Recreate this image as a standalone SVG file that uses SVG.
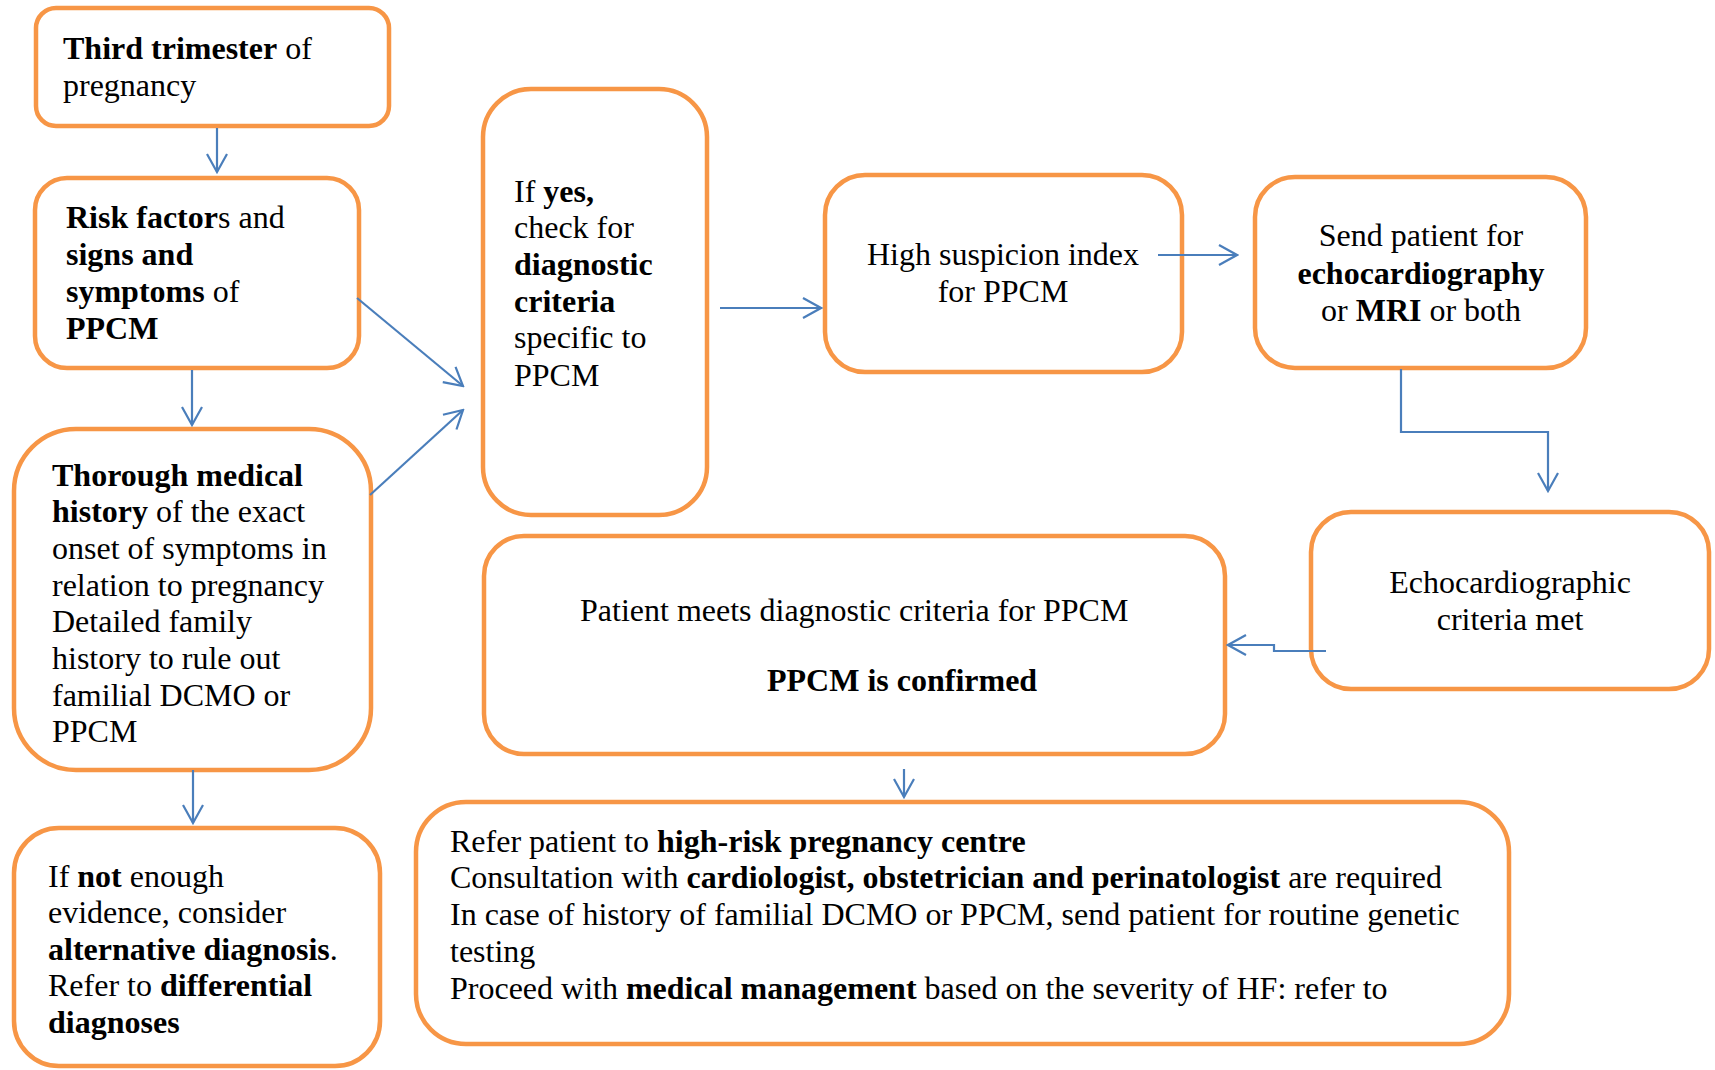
<svg xmlns="http://www.w3.org/2000/svg" width="1715" height="1070" viewBox="0 0 1715 1070">
<style>
.box{fill:#fff;stroke:#F79646;stroke-width:4.5}
.t{font-family:"Liberation Serif","Times New Roman",serif;font-size:32px;fill:#000}
.b{font-weight:bold}
.c{text-anchor:middle}
.con{fill:none;stroke:#4A7EBB;stroke-width:2.2;marker-end:url(#ah)}
</style>
<defs>
<marker id="ah" viewBox="0 0 22 24" refX="20" refY="12" markerWidth="22" markerHeight="24" markerUnits="userSpaceOnUse" orient="auto">
<path d="M2,2 L20,12 L2,22" fill="none" stroke="#4A7EBB" stroke-width="2.2"/>
</marker>
</defs>
<rect width="1715" height="1070" fill="#fff"/>
<g id="n1">
<rect class="box" x="36" y="8" width="353" height="118" rx="20"/>
<text class="t" x="63" y="59"><tspan class="b">Third trimester</tspan> of</text>
<text class="t" x="63" y="96">pregnancy</text>
</g>
<g id="n2">
<rect class="box" x="35" y="178" width="324" height="190" rx="32"/>
<text class="t" x="66" y="228"><tspan class="b">Risk factor</tspan>s and</text>
<text class="t b" x="66" y="265">signs and</text>
<text class="t" x="66" y="302"><tspan class="b">symptoms</tspan> of</text>
<text class="t b" x="66" y="339">PPCM</text>
</g>
<g id="n3">
<rect class="box" x="14" y="429" width="357" height="341" rx="62"/>
<text class="t b" x="52" y="486">Thorough medical</text>
<text class="t" x="52" y="522"><tspan class="b">history</tspan> of the exact</text>
<text class="t" x="52" y="559">onset of symptoms in</text>
<text class="t" x="52" y="596">relation to pregnancy</text>
<text class="t" x="52" y="632">Detailed family</text>
<text class="t" x="52" y="669">history to rule out</text>
<text class="t" x="52" y="706">familial DCMO or</text>
<text class="t" x="52" y="742">PPCM</text>
</g>
<g id="n4">
<rect class="box" x="14" y="828" width="366" height="238" rx="45"/>
<text class="t" x="48" y="887">If <tspan class="b">not</tspan> enough</text>
<text class="t" x="48" y="923">evidence, consider</text>
<text class="t" x="48" y="960"><tspan class="b">alternative diagnosis</tspan>.</text>
<text class="t" x="48" y="996">Refer to <tspan class="b">differential</tspan></text>
<text class="t b" x="48" y="1033">diagnoses</text>
</g>
<g id="n5">
<rect class="box" x="483" y="89" width="224" height="426" rx="48"/>
<text class="t" x="514" y="202">If <tspan class="b">yes,</tspan></text>
<text class="t" x="514" y="238">check for</text>
<text class="t b" x="514" y="275">diagnostic</text>
<text class="t b" x="514" y="312">criteria</text>
<text class="t" x="514" y="348">specific to</text>
<text class="t" x="514" y="386">PPCM</text>
</g>
<g id="n6">
<rect class="box" x="825" y="175" width="357" height="197" rx="40"/>
<text class="t c" x="1003" y="265">High suspicion index</text>
<text class="t c" x="1003" y="302">for PPCM</text>
</g>
<g id="n7">
<rect class="box" x="1255" y="177" width="331" height="191" rx="40"/>
<text class="t c" x="1421" y="246">Send patient for</text>
<text class="t c b" x="1421" y="284">echocardiography</text>
<text class="t c" x="1421" y="321">or <tspan class="b">MRI</tspan> or both</text>
</g>
<g id="n8">
<rect class="box" x="1311" y="512" width="398" height="177" rx="40"/>
<text class="t c" x="1510" y="593">Echocardiographic</text>
<text class="t c" x="1510" y="630">criteria met</text>
</g>
<g id="n9">
<rect class="box" x="484" y="536" width="741" height="218" rx="40"/>
<text class="t" x="580" y="621">Patient meets diagnostic criteria for PPCM</text>
<text class="t b" x="767" y="691">PPCM is confirmed</text>
</g>
<g id="n10">
<rect class="box" x="416" y="802" width="1093" height="242" rx="50"/>
<text class="t" x="450" y="852">Refer patient to <tspan class="b">high-risk pregnancy centre</tspan></text>
<text class="t" x="450" y="888">Consultation with <tspan class="b">cardiologist, obstetrician and perinatologist</tspan> are required</text>
<text class="t" x="450" y="925">In case of history of familial DCMO or PPCM, send patient for routine genetic</text>
<text class="t" x="450" y="962">testing</text>
<text class="t" x="450" y="999">Proceed with <tspan class="b">medical management</tspan> based on the severity of HF: refer to</text>
</g>
<g id="connectors">
<path class="con" d="M217,128 L217,172"/>
<path class="con" d="M192,370 L192,425"/>
<path class="con" d="M357,298 L463,386"/>
<path class="con" d="M370,495 L463,410"/>
<path class="con" d="M193,770 L193,823"/>
<path class="con" d="M720,308 L821,308"/>
<path class="con" d="M1158,255 L1237,255"/>
<path class="con" d="M1401,369 L1401,432 L1548,432 L1548,491"/>
<path class="con" d="M1326,651 L1274,651 L1274,645 L1228,645"/>
<path class="con" d="M904,769 L904,797"/>
</g>
</svg>
